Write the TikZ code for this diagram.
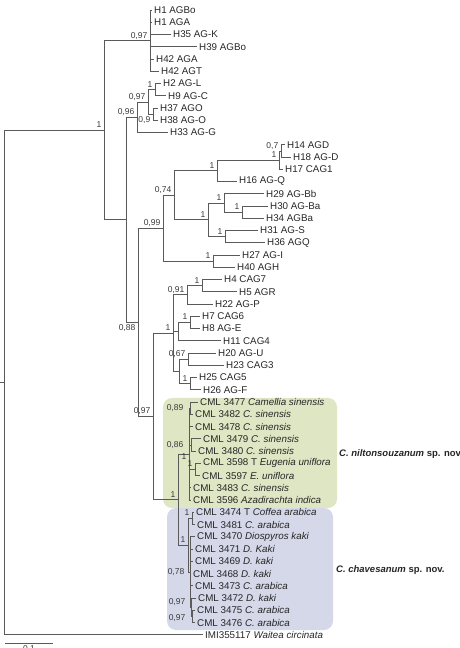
\documentclass[tikz,border=0pt]{standalone}
\usepackage{fontspec}
\setmainfont{Liberation Sans}
\usetikzlibrary{calc}
\definecolor{linec}{HTML}{5A5A5A}
\definecolor{txtc}{HTML}{262626}
\definecolor{supc}{HTML}{3A3A3A}
\definecolor{greenbg}{RGB}{222,230,196}
\definecolor{bluebg}{RGB}{212,216,232}
\begin{document}
\begin{tikzpicture}[x=1pt,y=-12.25pt,
  leaf/.style={anchor=west,inner xsep=2pt,inner ysep=1pt,font=\fontsize{9.8}{11}\selectfont,text=txtc},
  br/.style={draw=linec,line width=0.75pt},
  supbase/.style={inner sep=0pt,font=\fontsize{8.5}{10}\selectfont,text=supc},
  sup/.style={supbase,anchor=base east,xshift=-2.5pt,yshift=2.5pt},
  supb/.style={supbase,anchor=north east,xshift=-2.5pt,yshift=-2pt},
  supm/.style={supbase,anchor=east,xshift=-2.5pt},
  clade/.style={anchor=west,inner sep=0pt,font=\bfseries\fontsize{9.5}{11}\selectfont,text=txtc}]
\useasboundingbox (0,0.18367) rectangle (459,53.08163);
% clade backgrounds
\fill[greenbg,rounded corners=9pt] (163,32.673) rectangle (337,41.653);
\fill[bluebg,rounded corners=9pt] (167,41.653) rectangle (333,51.612);
% leaves
\node[leaf] (l1) at (152,1) {H1 AGBo};
\node[leaf] (l2) at (152,2) {H1 AGA};
\node[leaf] (l3) at (171,3) {H35 AG-K};
\node[leaf] (l4) at (197,4) {H39 AGBo};
\node[leaf] (l5) at (154,5) {H42 AGA};
\node[leaf] (l6) at (159,6) {H42 AGT};
\node[leaf] (l7) at (161,7) {H2 AG-L};
\node[leaf] (l8) at (166,8) {H9 AG-C};
\node[leaf] (l9) at (158,9) {H37 AGO};
\node[leaf] (l10) at (158,10) {H38 AG-O};
\node[leaf] (l11) at (168,11) {H33 AG-G};
\node[leaf] (l12) at (285,12) {H14 AGD};
\node[leaf] (l13) at (291,13) {H18 AG-D};
\node[leaf] (l14) at (283,14) {H17 CAG1};
\node[leaf] (l15) at (237,15) {H16 AG-Q};
\node[leaf] (l16) at (264,16) {H29 AG-Bb};
\node[leaf] (l17) at (268,17) {H30 AG-Ba};
\node[leaf] (l18) at (264,18) {H34 AGBa};
\node[leaf] (l19) at (258,19) {H31 AG-S};
\node[leaf] (l20) at (265,20) {H36 AGQ};
\node[leaf] (l21) at (240,21) {H27 AG-I};
\node[leaf] (l22) at (235,22) {H40 AGH};
\node[leaf] (l23) at (222,23) {H4 CAG7};
\node[leaf] (l24) at (237,24) {H5 AGR};
\node[leaf] (l25) at (213,25) {H22 AG-P};
\node[leaf] (l26) at (200,26) {H7 CAG6};
\node[leaf] (l27) at (200,27) {H8 AG-E};
\node[leaf] (l28) at (221,28) {H11 CAG4};
\node[leaf] (l29) at (216,29) {H20 AG-U};
\node[leaf] (l30) at (224,30) {H23 CAG3};
\node[leaf] (l31) at (197,31) {H25 CAG5};
\node[leaf] (l32) at (201,32) {H26 AG-F};
\node[leaf] (l33) at (198,33) {CML 3477 \textit{Camellia sinensis}};
\node[leaf] (l34) at (193,34) {CML 3482 \textit{C. sinensis}};
\node[leaf] (l35) at (193,35) {CML 3478 \textit{C. sinensis}};
\node[leaf] (l36) at (201,36) {CML 3479 \textit{C. sinensis}};
\node[leaf] (l37) at (196,37) {CML 3480 \textit{C. sinensis}};
\node[leaf] (l38) at (201,38) {CML 3598 T \textit{Eugenia uniflora}};
\node[leaf] (l39) at (200,39) {CML 3597 \textit{E. uniflora}};
\node[leaf] (l40) at (191,40) {CML 3483 \textit{C. sinensis}};
\node[leaf] (l41) at (191,41) {CML 3596 \textit{Azadirachta indica}};
\node[leaf] (l42) at (194,42) {CML 3474 T \textit{Coffea arabica}};
\node[leaf] (l43) at (195,43) {CML 3481 \textit{C. arabica}};
\node[leaf] (l44) at (195,44) {CML 3470 \textit{Diospyros kaki}};
\node[leaf] (l45) at (193,45) {CML 3471 \textit{D. Kaki}};
\node[leaf] (l46) at (193,46) {CML 3469 \textit{D. kaki}};
\node[leaf] (l47) at (191,47) {CML 3468 \textit{D. kaki}};
\node[leaf] (l48) at (193,48) {CML 3473 \textit{C. arabica}};
\node[leaf] (l49) at (196,49) {CML 3472 \textit{D. kaki}};
\node[leaf] (l50) at (195,50) {CML 3475 \textit{C. arabica}};
\node[leaf] (l51) at (195,51) {CML 3476 \textit{C. arabica}};
\node[leaf] (l52) at (203,52) {IMI355117 \textit{Waitea circinata}};
% internal nodes
\coordinate (A) at (150,3.5);
\coordinate (B1) at (155,7.5);
\coordinate (B2) at (153,9.5);
\coordinate (B) at (148,8.5);
\coordinate (C) at (137,9.75);
\coordinate (D1) at (281,12.5);
\coordinate (D2) at (279,13.25);
\coordinate (D3) at (217,14.125);
\coordinate (E1) at (242,17.5);
\coordinate (E2) at (224,16.75);
\coordinate (E3) at (225,19.5);
\coordinate (E4) at (208,18.125);
\coordinate (F) at (174,16.125);
\coordinate (G) at (213,21.5);
\coordinate (H) at (163,18.8125);
\coordinate (I1) at (202,23.5);
\coordinate (I2) at (187,24.25);
\coordinate (J1) at (190,26.5);
\coordinate (J2) at (178,27.25);
\coordinate (K1) at (188,29.5);
\coordinate (K2) at (190,31.5);
\coordinate (K3) at (179,30.5);
\coordinate (L) at (173,27.375);
\coordinate (M1) at (190,33.5);
\coordinate (M2) at (191,36.5);
\coordinate (M3) at (195,38.5);
\coordinate (P) at (189,37.25);
\coordinate (Q1) at (192,42.5);
\coordinate (R2) at (192,50.5);
\coordinate (R1) at (191,49.75);
\coordinate (R) at (190,46.875);
\coordinate (S) at (188,44.6875);
\coordinate (T) at (178,40.96875);
\coordinate (N4) at (153,34.171875);
\coordinate (N3) at (138,26.4921875);
\coordinate (N2) at (126,18.12109);
\coordinate (N1) at (104,10.81055);
\coordinate (Rt) at (4,31.40527);
\coordinate (stem) at (0,31.40527);
% branches
\draw[br] (stem) -- (Rt);
\foreach \p/\c in {Rt/N1,Rt/l52,N1/A,N1/N2,A/l1,A/l2,A/l3,A/l4,A/l5,A/l6,
  N2/C,N2/N3,C/B,C/l11,B/B1,B/B2,B1/l7,B1/l8,B2/l9,B2/l10,
  N3/H,N3/N4,H/F,H/G,F/D3,F/E4,D3/D2,D3/l15,D2/D1,D2/l14,D1/l12,D1/l13,
  E4/E2,E4/E3,E2/l16,E2/E1,E1/l17,E1/l18,E3/l19,E3/l20,G/l21,G/l22,
  N4/L,N4/T,L/I2,L/J2,L/K3,I2/I1,I2/l25,I1/l23,I1/l24,J2/J1,J2/l28,J1/l26,J1/l27,
  K3/K1,K3/K2,K1/l29,K1/l30,K2/l31,K2/l32,
  T/P,T/S,P/M1,P/l35,P/M2,P/M3,P/l40,P/l41,M1/l33,M1/l34,M2/l36,M2/l37,M3/l38,M3/l39,
  S/Q1,S/R,Q1/l42,Q1/l43,R/l44,R/l45,R/l46,R/l47,R/l48,R/R1,R1/l49,R1/R2,R2/l50,R2/l51}
  {\draw[br] (\p) |- (\c);}
% support values
\node[sup] (sN1) at (N1) {1};
\node[sup] (sA) at (A) {0,97};
\node[sup] (sB1) at (B1) {1};
\node[supb] (sB2) at (B2) {0,9};
\node[sup] (sB) at (B) {0,97};
\node[sup] (sC) at (C) {0,96};
\node[sup] (sD1) at (D1) {0,7};
\node[sup] (sD2) at (D2) {1};
\node[sup] (sD3) at (D3) {1};
\node[sup] (sE1) at (E1) {1};
\node[sup] (sE2) at (E2) {1};
\node[sup] (sE3) at (E3) {1};
\node[sup] (sE4) at (E4) {1};
\node[sup] (sF) at (F) {0,74};
\node[sup] (sG) at (G) {1};
\node[sup] (sH) at (H) {0,99};
\node[supb] (sN3) at (N3) {0,88};
\node[sup] (sN4) at (N4) {0,97};
\node[sup] (sI1) at (I1) {1};
\node[sup] (sI2) at (I2) {0,91};
\node[sup] (sJ1) at (J1) {1};
\node[sup] (sL) at (L) {1};
\node[sup] (sK1) at (K1) {0,67};
\node[sup] (sK2) at (K2) {1};
\node[supm,xshift=-4pt] (sM1) at (M1) {0,89};
\node[supm,xshift=-5pt] (sM2) at (M2) {0,86};
\node[sup] (sM3) at (M3) {1};
\node[supm,yshift=-3pt] (sP) at (P) {1};
\node[sup] (sT) at (T) {1};
\node[sup] (sQ1) at (Q1) {1};
\node[sup] (sS) at (S) {1};
\node[supm,xshift=-3pt] (sR) at (R) {0,78};
\node[sup,xshift=-3pt] (sR1) at (R1) {0,97};
\node[supm,xshift=-4pt,yshift=-2pt] (sR2) at (R2) {0,97};
% clade names
\node[clade] (cn) at (339,37.245) {\textit{C. niltonsouzanum} sp. nov.};
\node[clade] (cc) at (336,46.714) {\textit{C. chavesanum} sp. nov.};
% scale bar
\coordinate (sb1) at (5,52.673);
\coordinate (sb2) at (53,52.673);
\draw[br] (sb1) -- (sb2);
\node[supbase,anchor=north,yshift=-2.5pt] (sbl) at ($(sb1)!0.5!(sb2)$) {0,1};
\end{tikzpicture}
\end{document}
